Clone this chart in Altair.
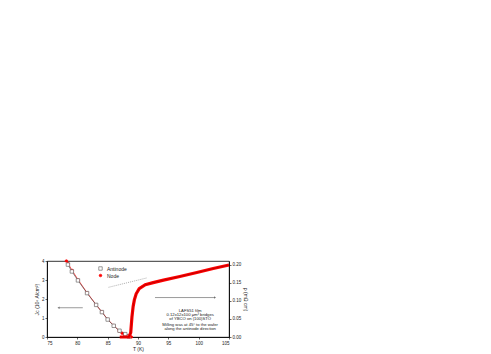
import altair as alt
import pandas as pd

# Jc data (left axis)
anti_T = [78.45, 79.1, 80.1, 81.6, 83.1, 84.05, 85.0, 86.0, 86.95, 87.9, 88.5]
anti_J = [3.81, 3.45, 2.98, 2.31, 1.69, 1.31, 0.92, 0.59, 0.33, 0.15, 0.03]
node_T = [78.2, 78.5, 79.15, 80.15, 81.6, 83.1, 84.05, 85.0, 86.0, 86.9, 87.4, 87.8, 88.1, 88.4, 88.7, 88.9]
node_J = [4.0, 3.85, 3.5, 3.0, 2.33, 1.7, 1.32, 0.93, 0.6, 0.32, 0.2, 0.12, 0.07, 0.04, 0.02, 0.0]

# resistivity data (right axis)
rho_T = [87.0, 88.5, 88.8, 89.0, 89.2, 89.4, 89.7, 90.2, 91.2, 92.5, 94.2, 96.9, 99.7, 102.4, 105.0]
rho_v = [0.0, 0.0, 0.012, 0.055, 0.085, 0.103, 0.12, 0.134, 0.145, 0.151, 0.158, 0.168, 0.179, 0.19, 0.20]

# dotted extrapolation
dot_T = [85.15, 91.45]
dot_v = [0.138, 0.164]

x_ticks = [75, 80, 85, 90, 95, 100, 105]
jl_ticks = [0, 1, 2, 3, 4]
rho_ticks = [0, 0.05, 0.1, 0.15, 0.2]

notes = ["LAFS51 film", "0.12x12x100 \u03bcm\u00b3 bridges", "of YBCO on (100)STO",
         "Milling was at 45\u00b0 to the wafer", "along the antinode direction"]
note_rho = [0.073, 0.061, 0.049, 0.033, 0.021]

xs = alt.Scale(domain=[75, 105], nice=False)
yl = alt.Scale(domain=[0, 4], nice=False)
yr = alt.Scale(domain=[0, 0.211], nice=False)

jc = pd.DataFrame({"T": node_T + anti_T, "J": node_J + anti_J,
                   "s": ["Node"] * len(node_T) + ["Antinode"] * len(anti_T)})
rho = pd.DataFrame({"T": rho_T, "r": rho_v})
dot = pd.DataFrame({"T": dot_T, "r": dot_v})
nt = pd.DataFrame({"t": notes, "r": note_rho})

cs = alt.Scale(domain=["Antinode", "Node"], range=["#555555", "#ff0000"])
fs = alt.Scale(domain=["Antinode", "Node"], range=["white", "#ff0000"])
ss = alt.Scale(domain=["Antinode", "Node"], range=["square", "circle"])
zs = alt.Scale(domain=["Antinode", "Node"], range=[12, 7])

leg = alt.Legend(orient="none", legendX=51, legendY=5, labelFontSize=5, symbolSize=10,
                 rowPadding=0, labelFont="Liberation Sans", title=None, labelColor="#222",
                 labelOffset=4)

xaxis = alt.Axis(values=x_ticks, labelOverlap=False, tickCount=7, format="d")
xenc = alt.X("T:Q", scale=xs, title="T (K)", axis=xaxis)
laxis = alt.Axis(values=jl_ticks, orient="left", labelOverlap=False, tickCount=5, format="d")
yenc_l = alt.Y("J:Q", scale=yl, title="Jc (10\u2076 A/cm\u00b2)", axis=laxis)
raxis = alt.Axis(values=rho_ticks, format=".2f", orient="right", labelOverlap=False, tickCount=5)

lines_l = alt.Chart(jc).mark_line(strokeWidth=0.7).encode(
    x=xenc, y=yenc_l, color=alt.Color("s:N", scale=cs, legend=leg), detail="s:N")
pts_l = alt.Chart(jc).mark_point(strokeWidth=0.6, opacity=1).encode(
    x=xenc, y=yenc_l,
    color=alt.Color("s:N", scale=cs, legend=leg),
    fill=alt.Fill("s:N", scale=fs, legend=None),
    size=alt.Size("s:N", scale=zs, legend=None),
    shape=alt.Shape("s:N", scale=ss, legend=leg))
arrow_l = alt.Chart(pd.DataFrame({"a": [0]})).mark_rule(strokeWidth=0.6, color="#555").encode(
    x=alt.datum(76.9, scale=xs, axis=xaxis, title="T (K)"), x2=alt.datum(80.9),
    y=alt.datum(1.54, scale=yl, axis=laxis, title="Jc (10\u2076 A/cm\u00b2)"))
head_l = alt.Chart(pd.DataFrame({"a": [0]})).mark_point(shape="triangle-left", filled=True,
                                                        size=6, color="#555").encode(
    x=alt.datum(76.9, scale=xs, axis=xaxis, title="T (K)"),
    y=alt.datum(1.54, scale=yl, axis=laxis, title="Jc (10\u2076 A/cm\u00b2)"))
left = alt.layer(lines_l, pts_l, arrow_l, head_l)

rtitle = "\u03c1 (m\u03a9 cm)"
yenc_r = alt.Y("r:Q", scale=yr, title=rtitle, axis=raxis)
rho_line = alt.Chart(rho).mark_line(color="#ff0000", strokeWidth=3.2).encode(x=xenc, y=yenc_r)
rho_core = alt.Chart(rho).mark_line(color="#660000", strokeWidth=0.4).encode(x=xenc, y=yenc_r)
dot_line = alt.Chart(dot).mark_line(color="#777", strokeWidth=0.6, strokeDash=[1, 1]).encode(
    x=xenc, y=yenc_r)
arrow_r = alt.Chart(pd.DataFrame({"a": [0]})).mark_rule(strokeWidth=0.6, color="#555").encode(
    x=alt.datum(92.8, scale=xs, axis=xaxis, title="T (K)"), x2=alt.datum(102.7),
    y=alt.datum(0.1095, scale=yr, axis=raxis, title=rtitle))
head_r = alt.Chart(pd.DataFrame({"a": [0]})).mark_point(shape="triangle-right", filled=True,
                                                        size=6, color="#555").encode(
    x=alt.datum(102.7, scale=xs, axis=xaxis, title="T (K)"),
    y=alt.datum(0.1095, scale=yr, axis=raxis, title=rtitle))
txt = alt.Chart(nt).mark_text(fontSize=4.2, font="Liberation Sans", color="#222").encode(
    x=alt.datum(98.6, scale=xs, axis=xaxis, title="T (K)"), y=yenc_r, text="t:N")
right = alt.layer(rho_line, rho_core, dot_line, arrow_r, head_r, txt)

chart = alt.layer(left, right).resolve_scale(y="independent").properties(
    width=182, height=76,
    autosize=alt.AutoSizeParams(type="none"),
    padding={"left": 39, "top": 253, "right": 30, "bottom": 20},
).configure_view(stroke="black", strokeWidth=0.8).configure_axis(
    domainColor="black", tickColor="black", tickSize=2, tickWidth=0.6, domainWidth=0.8,
    labelFontSize=4.5, labelPadding=1, titleFontSize=5, titlePadding=2, labelOverlap=False,
    labelFont="Liberation Sans", titleFont="Liberation Sans", grid=False,
    labelColor="#222", titleColor="#222", titleFontWeight="normal"
).configure_legend(symbolStrokeWidth=0.6)

chart.save("out.html", embed_options={"renderer": "svg", "actions": False})
